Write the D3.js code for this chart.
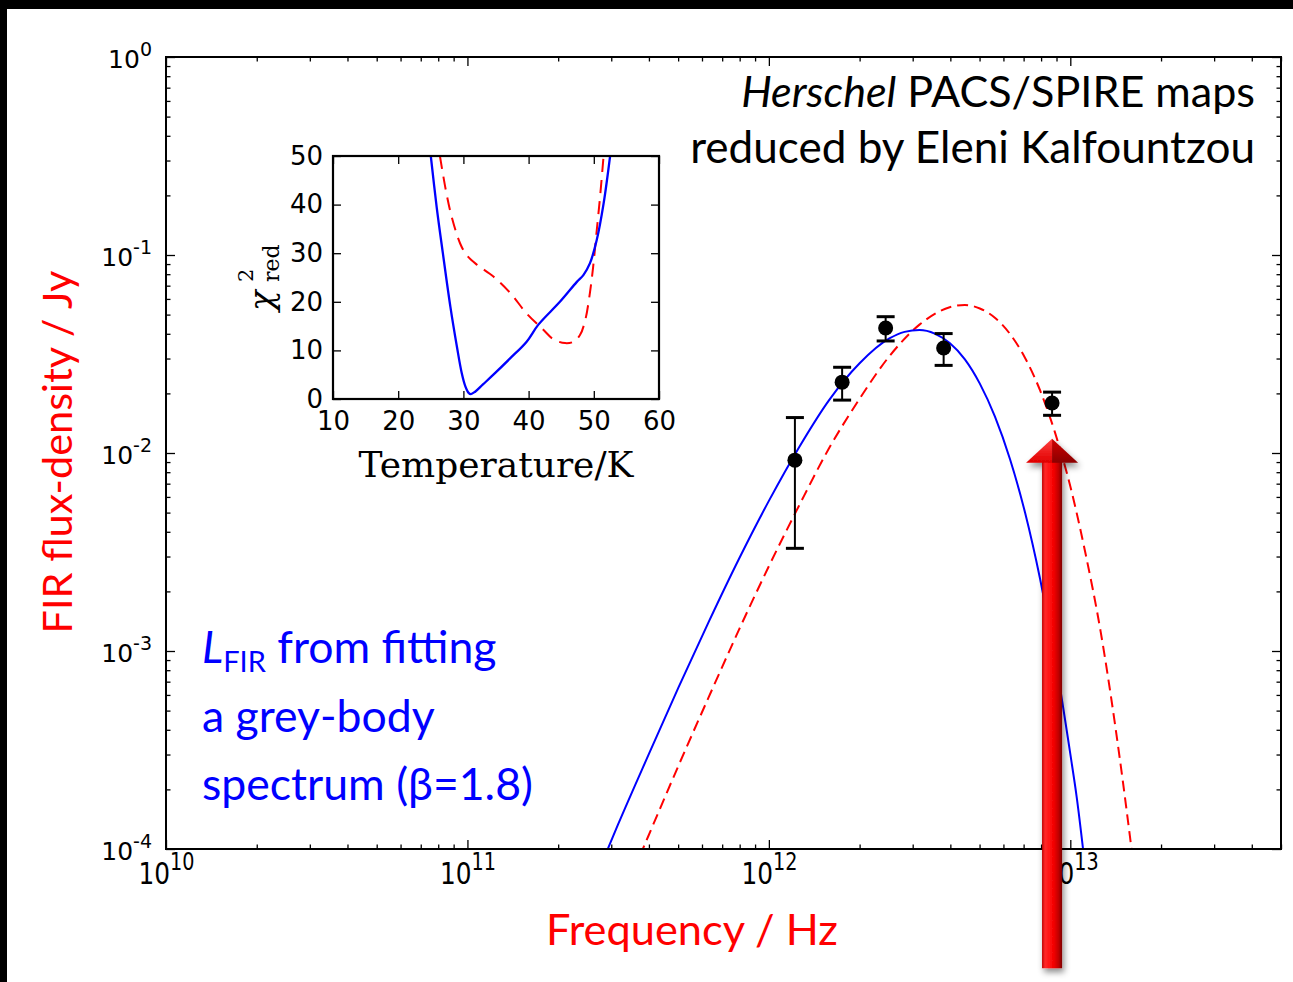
<!DOCTYPE html>
<html>
<head>
<meta charset="utf-8">
<script src="https://cdn.jsdelivr.net/npm/d3@7"></script>
<style>
body { margin: 0; background: #fff; }
svg { display: block; }
</style>
</head>
<body>
<svg id="chart" width="1293" height="982"></svg>
<script>
// measured photometry (Hz, Jy)
var obsFreq = [1.22e12, 1.75e12, 2.44e12, 3.80e12, 8.70e12];
var obsFlux = [9.2e-3, 0.0228, 0.0428, 0.0339, 0.0179];
var obsErr  = [5.9e-3, 4.3e-3, 6.0e-3, 6.2e-3, 2.4e-3];

// grey-body fit, solid blue
var blueFreq = [2.82e11, 3.16e11, 3.98e11, 5.01e11, 6.31e11, 7.94e11, 1.00e12, 1.26e12, 1.58e12,
                2.00e12, 2.51e12, 2.82e12, 3.16e12, 3.55e12, 3.98e12, 4.47e12, 5.01e12, 5.62e12,
                6.31e12, 7.08e12, 7.94e12, 8.91e12, 1.00e13, 1.05e13, 1.12e13];
var blueFlux = [8.8e-5, 1.33e-4, 2.97e-4, 6.53e-4, 1.40e-3, 2.90e-3, 5.73e-3, 0.0107, 0.0184,
                0.0284, 0.0379, 0.0409, 0.0418, 0.0401, 0.0359, 0.0297, 0.0224, 0.0153,
                9.30e-3, 4.99e-3, 2.31e-3, 9.14e-4, 3.02e-4, 1.83e-4, 8.1e-5];

// second fit, dashed red
var redFreq = [3.55e11, 3.98e11, 5.01e11, 6.31e11, 7.94e11, 1.00e12, 1.26e12, 1.58e12, 2.00e12,
               2.51e12, 3.16e12, 3.98e12, 4.47e12, 5.01e12, 5.62e12, 6.31e12, 7.08e12, 7.94e12,
               8.91e12, 1.00e13, 1.12e13, 1.26e13, 1.41e13, 1.58e13, 1.78e13];
var redFlux = [7.7e-5, 1.16e-4, 2.63e-4, 5.83e-4, 1.27e-3, 2.68e-3, 5.43e-3, 0.0105, 0.0188,
               0.0308, 0.0445, 0.0545, 0.0559, 0.0537, 0.0482, 0.0399, 0.0302, 0.0207,
               0.0126, 6.79e-3, 3.17e-3, 1.26e-3, 4.17e-4, 1.13e-4, 2.44e-5];

// inset: reduced chi-square against temperature
var chiBlueT = [25.0, 25.9, 26.85, 28.0, 29.0, 29.75, 30.3, 30.8, 31.15, 31.8, 33.0, 34.6, 37.2,
                39.7, 41.5, 44.8, 47.4, 48.4, 49.4, 50.45, 51.5, 52.5];
var chiBlue  = [50, 39.5, 30, 19, 10.8, 5.3, 2.6, 1.25, 1.0, 1.5, 3.0, 5.0, 8.4,
                11.8, 15.3, 20.0, 24.1, 25.5, 27.9, 32.7, 40.2, 50];
var chiRedT  = [26.4, 27.3, 28.2, 29.5, 30.5, 32.1, 34.6, 37.2, 39.7, 42.3, 43.8, 45.6, 46.9,
                47.9, 48.7, 49.4, 49.9, 50.4, 50.96, 51.5];
var chiRed   = [50, 43, 37.5, 32, 29.6, 27.6, 25.2, 21.8, 17.6, 14.2, 12.3, 11.5, 11.8,
                13.2, 16.3, 21.8, 27.2, 34, 41.6, 50];

var insetTicks = [10, 20, 30, 40, 50, 60];
var insetYTicks = [0, 10, 20, 30, 40, 50];

// arrow pointing at the highest-frequency point
var arrowFreq = 8.70e12;
var arrowTip = 0.0118;
var arrowBase = 2.5e-5;

var svg = d3.select("#chart");
var sans = "'DejaVu Sans', sans-serif";
var calibri = "Lato, 'Open Sans', sans-serif";

svg.append("rect").attr("width", 1293).attr("height", 982).attr("fill", "#fff");
svg.append("rect").attr("width", 1293).attr("height", 9).attr("fill", "#000");
svg.append("rect").attr("width", 7).attr("height", 982).attr("fill", "#000");

var x = d3.scaleLog().domain([1e10, 5e13]).range([166, 1281]);
var y = d3.scaleLog().domain([1e-4, 1]).range([849, 57]);

function isDecade(d) { return Math.abs(Math.log10(d) - Math.round(Math.log10(d))) < 1e-9; }
var allX = x.ticks();
var majX = allX.filter(isDecade);
var minX = allX.filter(function(d) { return !isDecade(d); });
var allY = y.ticks();
var majY = allY.filter(isDecade);
var minY = allY.filter(function(d) { return !isDecade(d); });

function styleAxis(g) {
    g.select(".domain").remove();
    g.selectAll(".tick line").attr("stroke", "#000").attr("stroke-width", 1.3);
}

// minor ticks, all four sides
svg.append("g").attr("transform", "translate(0,849)")
    .call(d3.axisBottom(x).tickValues(minX).tickSizeInner(-4.5).tickSizeOuter(0).tickFormat(""))
    .call(styleAxis);
svg.append("g").attr("transform", "translate(0,57)")
    .call(d3.axisTop(x).tickValues(minX).tickSizeInner(-4.5).tickSizeOuter(0).tickFormat(""))
    .call(styleAxis);
svg.append("g").attr("transform", "translate(166,0)")
    .call(d3.axisLeft(y).tickValues(minY).tickSizeInner(-4.5).tickSizeOuter(0).tickFormat(""))
    .call(styleAxis);
svg.append("g").attr("transform", "translate(1281,0)")
    .call(d3.axisRight(y).tickValues(minY).tickSizeInner(-4.5).tickSizeOuter(0).tickFormat(""))
    .call(styleAxis);

// major ticks
var xAxisG = svg.append("g").attr("transform", "translate(0,849)")
    .call(d3.axisBottom(x).tickValues(majX).tickSizeInner(-9).tickSizeOuter(0).tickPadding(6))
    .call(styleAxis);
svg.append("g").attr("transform", "translate(0,57)")
    .call(d3.axisTop(x).tickValues(majX).tickSizeInner(-9).tickSizeOuter(0).tickFormat(""))
    .call(styleAxis);
var yAxisG = svg.append("g").attr("transform", "translate(166,0)")
    .call(d3.axisLeft(y).tickValues(majY).tickSizeInner(-9).tickSizeOuter(0).tickPadding(14))
    .call(styleAxis);
svg.append("g").attr("transform", "translate(1281,0)")
    .call(d3.axisRight(y).tickValues(majY).tickSizeInner(-9).tickSizeOuter(0).tickFormat(""))
    .call(styleAxis);

function powerLabel(base, sup, rise) {
    return function(d) {
        var e = Math.round(Math.log10(d));
        var t = d3.select(this);
        t.text(null).attr("font-family", sans).attr("fill", "#000").attr("font-size", base);
        t.append("tspan").text("10");
        t.append("tspan").attr("font-size", sup).attr("dy", -rise).text(e < 0 ? "-" + (-e) : e);
    };
}
xAxisG.selectAll(".tick text").attr("dy", "0.95em").each(powerLabel(31, 24, 14))
    .attr("transform", "scale(0.8,1)");
yAxisG.selectAll(".tick text").attr("dy", "0.42em").each(powerLabel(25, 19, 12));

// curves
svg.append("clipPath").attr("id", "plotClip")
    .append("rect").attr("x", 166).attr("y", 57).attr("width", 1115).attr("height", 792);

var line = d3.line()
    .x(function(d) { return x(d[0]); })
    .y(function(d) { return y(d[1]); })
    .curve(d3.curveMonotoneX);

var curves = svg.append("g").attr("clip-path", "url(#plotClip)");
curves.append("path").attr("d", line(d3.zip(redFreq, redFlux)))
    .attr("fill", "none").attr("stroke", "#ff0000").attr("stroke-width", 2)
    .attr("stroke-dasharray", "11,6");
curves.append("path").attr("d", line(d3.zip(blueFreq, blueFlux)))
    .attr("fill", "none").attr("stroke", "#0000ff").attr("stroke-width", 2);

// data points with error bars
var pts = d3.range(obsFreq.length).map(function(i) {
    return { f: obsFreq[i], s: obsFlux[i], e: obsErr[i] };
});
var pg = svg.append("g").selectAll("g").data(pts).enter().append("g");
pg.append("line")
    .attr("x1", function(d) { return x(d.f); }).attr("x2", function(d) { return x(d.f); })
    .attr("y1", function(d) { return y(d.s - d.e); }).attr("y2", function(d) { return y(d.s + d.e); })
    .attr("stroke", "#000").attr("stroke-width", 2);
pg.selectAll("line.cap").data(function(d) { return [d.s - d.e, d.s + d.e].map(function(v) { return { f: d.f, v: v }; }); })
    .enter().append("line").attr("class", "cap")
    .attr("x1", function(d) { return x(d.f) - 9; }).attr("x2", function(d) { return x(d.f) + 9; })
    .attr("y1", function(d) { return y(d.v); }).attr("y2", function(d) { return y(d.v); })
    .attr("stroke", "#000").attr("stroke-width", 3);
pg.append("circle")
    .attr("cx", function(d) { return x(d.f); }).attr("cy", function(d) { return y(d.s); })
    .attr("r", 7.5).attr("fill", "#000");

svg.append("rect").attr("x", 166).attr("y", 57).attr("width", 1115).attr("height", 792)
    .attr("fill", "none").attr("stroke", "#000").attr("stroke-width", 2);

// ---- inset ----
var xi = d3.scaleLinear().domain([10, 60]).range([333, 659]);
var yi = d3.scaleLinear().domain([0, 50]).range([399, 156]);

svg.append("rect").attr("x", 333).attr("y", 156).attr("width", 326).attr("height", 243).attr("fill", "#fff");

function insetAxis(g) {
    g.select(".domain").remove();
    g.selectAll(".tick line").attr("stroke", "#000").attr("stroke-width", 1.3);
    g.selectAll(".tick text").attr("font-family", sans).attr("font-size", 26).attr("fill", "#000");
}
svg.append("g").attr("transform", "translate(0,399)")
    .call(d3.axisBottom(xi).tickValues(insetTicks).tickSizeInner(-8).tickSizeOuter(0).tickPadding(13))
    .call(insetAxis);
svg.append("g").attr("transform", "translate(0,156)")
    .call(d3.axisTop(xi).tickValues(insetTicks).tickSizeInner(-8).tickSizeOuter(0).tickFormat(""))
    .call(insetAxis);
svg.append("g").attr("transform", "translate(333,0)")
    .call(d3.axisLeft(yi).tickValues(insetYTicks).tickSizeInner(-8).tickSizeOuter(0).tickPadding(10))
    .call(insetAxis);
svg.append("g").attr("transform", "translate(659,0)")
    .call(d3.axisRight(yi).tickValues(insetYTicks).tickSizeInner(-8).tickSizeOuter(0).tickFormat(""))
    .call(insetAxis);

svg.append("clipPath").attr("id", "insetClip")
    .append("rect").attr("x", 333).attr("y", 156).attr("width", 326).attr("height", 243);

var iline = d3.line()
    .x(function(d) { return xi(d[0]); })
    .y(function(d) { return yi(d[1]); })
    .curve(d3.curveCatmullRom.alpha(0.5));

var ic = svg.append("g").attr("clip-path", "url(#insetClip)");
ic.append("path").attr("d", iline(d3.zip(chiRedT, chiRed)))
    .attr("fill", "none").attr("stroke", "#ff0000").attr("stroke-width", 2)
    .attr("stroke-dasharray", "13,8");
ic.append("path").attr("d", iline(d3.zip(chiBlueT, chiBlue)))
    .attr("fill", "none").attr("stroke", "#0000ff").attr("stroke-width", 2.3);

svg.append("rect").attr("x", 333).attr("y", 156).attr("width", 326).attr("height", 243)
    .attr("fill", "none").attr("stroke", "#000").attr("stroke-width", 2.2);

svg.append("text").attr("x", 496).attr("y", 477).attr("text-anchor", "middle")
    .attr("font-family", "'DejaVu Serif', serif").attr("font-size", 36).attr("fill", "#000")
    .text("Temperature/K");

var chiLab = svg.append("g").attr("transform", "translate(273,0) rotate(-90)");
chiLab.append("text").attr("x", -311).attr("y", 0)
    .attr("font-family", "'DejaVu Serif', serif").attr("font-style", "italic").attr("font-size", 34)
    .text("χ");
chiLab.append("text").attr("x", -282).attr("y", -20)
    .attr("font-family", "'DejaVu Serif', serif").attr("font-size", 21).text("2");
chiLab.append("text").attr("x", -282).attr("y", 6)
    .attr("font-family", "'DejaVu Serif', serif").attr("font-size", 22).text("red");

// ---- text annotations ----
function fitWidth(sel, w) {
    var cur = sel.node().getComputedTextLength();
    var fs = parseFloat(sel.attr("font-size"));
    sel.attr("font-size", fs * w / cur);
    return fs * w / cur;
}

var t1 = svg.append("text").attr("x", 1255).attr("y", 107).attr("text-anchor", "end")
    .attr("font-family", calibri).attr("font-size", 40).attr("fill", "#000");
t1.append("tspan").attr("font-style", "italic").text("Herschel");
t1.append("tspan").text(" PACS/SPIRE maps");
fitWidth(t1, 514);
var t2 = svg.append("text").attr("x", 1255).attr("y", 163).attr("text-anchor", "end")
    .attr("font-family", calibri).attr("font-size", 40).attr("fill", "#000")
    .text("reduced by Eleni Kalfountzou");
fitWidth(t2, 565);

var b3 = svg.append("text").attr("x", 202).attr("y", 800)
    .attr("font-family", calibri).attr("font-size", 40).attr("fill", "#0000ff")
    .text("spectrum (β=1.8)");
var blueSize = fitWidth(b3, 331);
var b1 = svg.append("text").attr("x", 202).attr("y", 663)
    .attr("font-family", calibri).attr("font-size", blueSize).attr("fill", "#0000ff");
b1.append("tspan").attr("font-style", "italic").text("L");
b1.append("tspan").attr("font-size", blueSize * 0.65).attr("dy", 9).text("FIR");
b1.append("tspan").attr("dy", -9).text(" from fitting");
svg.append("text").attr("x", 202).attr("y", 732)
    .attr("font-family", calibri).attr("font-size", blueSize).attr("fill", "#0000ff")
    .text("a grey-body");

var xl = svg.append("text").attr("x", 692).attr("y", 945).attr("text-anchor", "middle")
    .attr("font-family", calibri).attr("font-size", 40).attr("fill", "#ff0000")
    .text("Frequency / Hz");
fitWidth(xl, 292);
var yl = svg.append("text").attr("transform", "translate(72,452) rotate(-90)").attr("text-anchor", "middle")
    .attr("font-family", calibri).attr("font-size", 40).attr("fill", "#ff0000")
    .text("FIR flux-density / Jy");
fitWidth(yl, 363);

// ---- red arrow ----
var defs = svg.append("defs");
var grad = defs.append("linearGradient").attr("id", "arrowGrad")
    .attr("x1", "0").attr("x2", "1").attr("y1", "0").attr("y2", "0");
[[0, "#c00000"], [0.15, "#ff2a2a"], [0.4, "#ff1010"], [0.6, "#f00000"], [0.82, "#c00000"], [1, "#800000"]]
    .forEach(function(s) { grad.append("stop").attr("offset", s[0]).attr("stop-color", s[1]); });
var headL = defs.append("linearGradient").attr("id", "headL")
    .attr("x1", "0").attr("x2", "0").attr("y1", "0").attr("y2", "1");
[[0, "#ff4040"], [1, "#e00000"]]
    .forEach(function(s) { headL.append("stop").attr("offset", s[0]).attr("stop-color", s[1]); });
var headR = defs.append("linearGradient").attr("id", "headR")
    .attr("x1", "0").attr("x2", "0").attr("y1", "0").attr("y2", "1");
[[0, "#d00000"], [1, "#8a0000"]]
    .forEach(function(s) { headR.append("stop").attr("offset", s[0]).attr("stop-color", s[1]); });
var shadow = defs.append("filter").attr("id", "arrowShadow")
    .attr("x", "-50%").attr("y", "-10%").attr("width", "200%").attr("height", "120%");
shadow.append("feDropShadow").attr("dx", 2).attr("dy", 4).attr("stdDeviation", 3)
    .attr("flood-color", "#000").attr("flood-opacity", 0.45);

var ax = x(arrowFreq), aTop = y(arrowTip), aBot = y(arrowBase);
var arrow = svg.append("g").attr("filter", "url(#arrowShadow)");
arrow.append("rect").attr("x", ax - 10).attr("y", aTop + 22).attr("width", 20).attr("height", aBot - aTop - 22)
    .attr("fill", "url(#arrowGrad)");
arrow.append("path")
    .attr("d", "M" + ax + "," + aTop + "L" + ax + "," + (aTop + 24) + "L" + (ax - 26) + "," + (aTop + 24) + "Z")
    .attr("fill", "url(#headL)");
arrow.append("path")
    .attr("d", "M" + ax + "," + aTop + "L" + (ax + 26) + "," + (aTop + 24) + "L" + ax + "," + (aTop + 24) + "Z")
    .attr("fill", "url(#headR)");
</script>
</body>
</html>
